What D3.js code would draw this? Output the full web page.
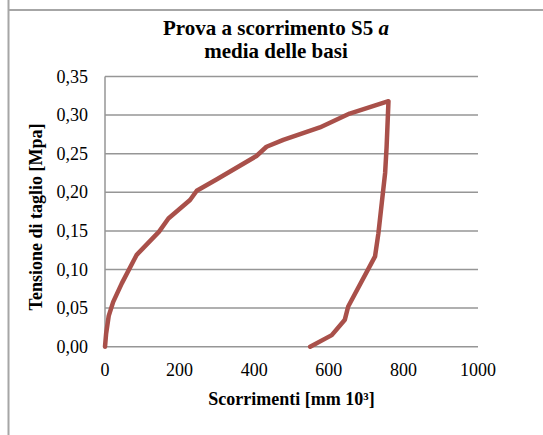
<!DOCTYPE html>
<html>
<head>
<meta charset="utf-8">
<script src="https://cdn.jsdelivr.net/npm/d3@7"></script>
<style>
  html, body { margin: 0; padding: 0; background: #fff; }
  svg { display: block; }
  text { font-family: "Liberation Serif", "Times New Roman", serif; fill: #000; }
</style>
</head>
<body>
<svg id="chart" width="543" height="435"></svg>
<script>
// ---- data ----
const loadX = [0, 3, 10, 22, 45, 85, 145, 170, 228, 246, 300, 406, 433, 478, 576, 656, 760];
const loadY = [0, 0.017, 0.040, 0.058, 0.082, 0.119, 0.149, 0.166, 0.190, 0.202, 0.217, 0.247, 0.259, 0.268, 0.284, 0.302, 0.318];
const unloadX = [760, 755, 751, 742, 733, 724, 652, 643, 608, 550];
const unloadY = [0.318, 0.259, 0.225, 0.186, 0.147, 0.117, 0.052, 0.035, 0.015, 0];
const xTicks = [0, 200, 400, 600, 800, 1000];
const yTicks = [0, 0.05, 0.10, 0.15, 0.20, 0.25, 0.30, 0.35];
const titleLine1 = "Prova a scorrimento S5 ";
const titleItalic = "a";
const titleLine2 = "media delle basi";
const xTitle = "Scorrimenti [mm 10³]";
const yTitle = "Tensione di taglio [Mpa]";

const svg = d3.select("#chart");
const x = d3.scaleLinear().domain([0, 1000]).range([105, 478]);
const y = d3.scaleLinear().domain([0, 0.35]).range([346.7, 76.5]);
const loc = d3.formatLocale({decimal: ",", thousands: ".", grouping: [3], currency: ["", ""]});
const fy = loc.format(".2f");

// frame
svg.append("line").attr("x1", 8.5).attr("x2", 8.5).attr("y1", 0).attr("y2", 435)
  .attr("stroke", "#a6a6a6").attr("stroke-width", 2);
svg.append("line").attr("x1", 8).attr("x2", 543).attr("y1", 10).attr("y2", 10)
  .attr("stroke", "#a6a6a6").attr("stroke-width", 2);

// gridlines
svg.append("g").selectAll("line").data(yTicks).join("line")
  .attr("x1", x(0)).attr("x2", x(1000))
  .attr("y1", d => y(d)).attr("y2", d => y(d))
  .attr("stroke", "#969696").attr("stroke-width", 1.5);
// y axis line
svg.append("line").attr("x1", x(0)).attr("x2", x(0)).attr("y1", y(0.35)).attr("y2", y(0))
  .attr("stroke", "#969696").attr("stroke-width", 1.5);

// y tick labels
svg.append("g").selectAll("text").data(yTicks).join("text")
  .attr("x", 88).attr("y", d => y(d) + 6)
  .attr("text-anchor", "end").style("font-size", "18px")
  .text(d => fy(d));
// x tick labels
svg.append("g").selectAll("text").data(xTicks).join("text")
  .attr("x", d => x(d)).attr("y", 376)
  .attr("text-anchor", "middle").style("font-size", "18px")
  .text(d => d);

// titles
const t1 = svg.append("text").attr("x", 276).attr("y", 35).attr("text-anchor", "middle")
  .style("font-size", "21px").style("font-weight", "bold");
t1.append("tspan").text(titleLine1);
t1.append("tspan").style("font-style", "italic").text(titleItalic);
svg.append("text").attr("x", 276).attr("y", 58).attr("text-anchor", "middle")
  .style("font-size", "21px").style("font-weight", "bold").text(titleLine2);

svg.append("text").attr("x", 291.5).attr("y", 405).attr("text-anchor", "middle")
  .style("font-size", "18px").style("font-weight", "bold").text(xTitle);
svg.append("text").attr("transform", "translate(42,217) rotate(-90)").attr("text-anchor", "middle")
  .style("font-size", "18px").style("font-weight", "bold").text(yTitle);

// series
const pts = loadX.map((v, i) => [v, loadY[i]]).concat(unloadX.slice(1).map((v, i) => [v, unloadY[i + 1]]));
const line = d3.line().x(d => x(d[0])).y(d => y(d[1]));
svg.append("path").datum(pts).attr("d", line)
  .attr("fill", "none").attr("stroke", "#a9504a").attr("stroke-width", 4.5)
  .attr("stroke-linejoin", "round").attr("stroke-linecap", "round");
</script>
</body>
</html>
